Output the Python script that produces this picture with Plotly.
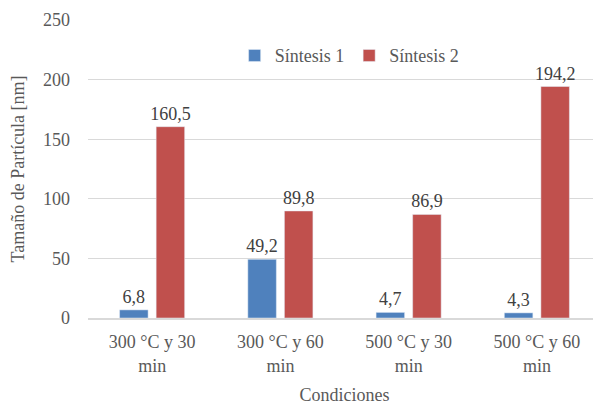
import plotly.graph_objects as go

categories = ["300 °C y 30<br>min", "300 °C y 60<br>min", "500 °C y 30<br>min", "500 °C y 60<br>min"]
sintesis1 = [6.8, 49.2, 4.7, 4.3]
sintesis2 = [160.5, 89.8, 86.9, 194.2]
labels1 = ["6,8", "49,2", "4,7", "4,3"]
labels2 = ["160,5", "89,8", "86,9", "194,2"]

FAM = "Liberation Serif"
font = dict(family=FAM, size=18, color="#595959")

fig = go.Figure()
fig.add_bar(x=categories, y=sintesis1, name="Síntesis 1", marker_color="#4f81bd",
            text=labels1, textposition="outside", cliponaxis=False, constraintext="none",
            textfont=dict(family=FAM, size=18, color="#404040"))
fig.add_bar(x=categories, y=sintesis2, name="Síntesis 2", marker_color="#c0504d",
            text=labels2, textposition="outside", cliponaxis=False, constraintext="none",
            textfont=dict(family=FAM, size=18, color="#404040"))

fig.update_layout(
    width=593, height=397,
    margin=dict(l=80, r=0, t=12, b=87),
    paper_bgcolor="white", plot_bgcolor="white",
    font=font,
    barmode="group", bargap=0.43, bargroupgap=0.22,
    legend=dict(orientation="h", x=0.51, y=0.88, xanchor="center", yanchor="middle",
                font=dict(family=FAM, size=18, color="#595959"), bgcolor="rgba(0,0,0,0)",
                itemwidth=30, tracegroupgap=0),
    showlegend=True,
)
fig.update_yaxes(range=[0, 250], dtick=50, gridcolor="#d9d9d9", gridwidth=1,
                 zeroline=False, showline=False, ticks="", ticklabelstandoff=17,
                 automargin=False,
                 title=dict(text="Tamaño de Partícula [nm]", standoff=20,
                            font=dict(family=FAM, size=18, color="#595959")))
fig.update_xaxes(showline=True, linecolor="#d9d9d9", linewidth=1.5, ticks="",
                 automargin=False, ticklabelstandoff=7,
                 title=dict(text="Condiciones", standoff=16, font=dict(family=FAM, size=18, color="#595959")))

fig.write_html("out.html")
